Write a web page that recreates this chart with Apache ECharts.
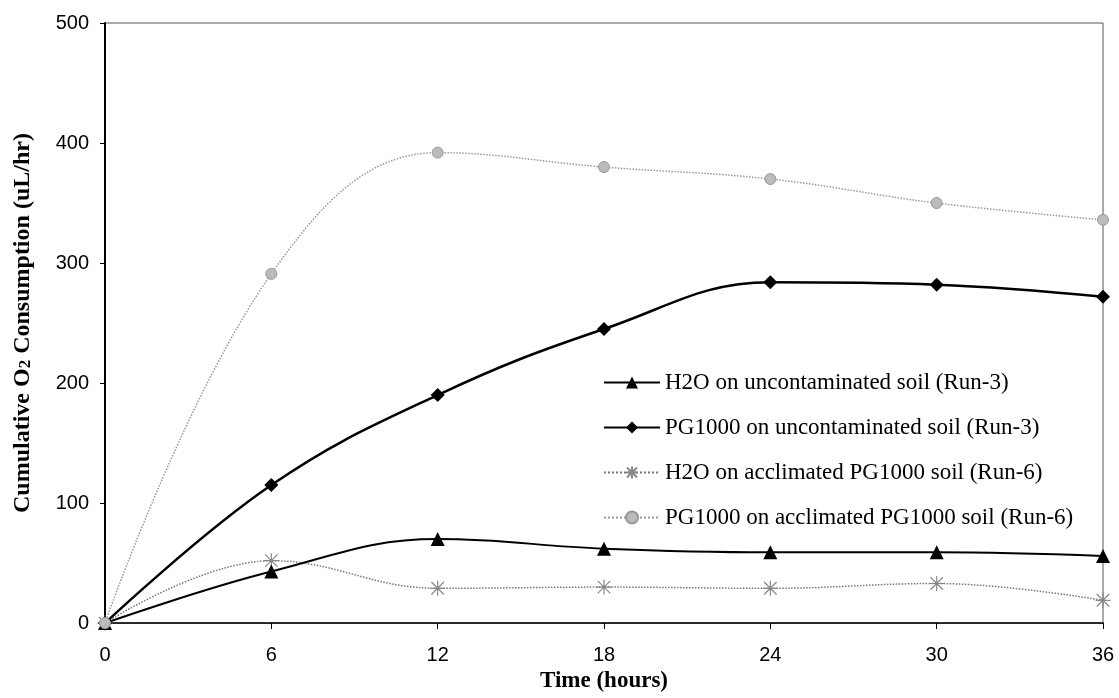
<!DOCTYPE html>
<html>
<head>
<meta charset="utf-8">
<script src="https://cdn.jsdelivr.net/npm/echarts@6/dist/echarts.min.js"></script>
<style>html,body{margin:0;padding:0;background:#fff}#c{width:1119px;height:698px}</style>
</head>
<body>
<div id="c"></div>
<script>
var hours = [0, 6, 12, 18, 24, 30, 36];
var xTicks = [0, 6, 12, 18, 24, 30, 36];
var yTicks = [0, 100, 200, 300, 400, 500];
var seriesNames = [
  'H2O on uncontaminated soil (Run-3)',
  'PG1000 on uncontaminated soil (Run-3)',
  'H2O on acclimated PG1000 soil (Run-6)',
  'PG1000 on acclimated PG1000 soil (Run-6)'
];
var h2oUncontaminated = [0, 43, 70, 62, 59, 59, 56];
var pgUncontaminated = [0, 115, 190, 245, 284, 282, 272];
var h2oAcclimated = [0, 52, 29, 30, 29, 33, 19];
var pgAcclimated = [0, 291, 392, 380, 370, 350, 336];

function pairs(vals) { return hours.map(function (h, i) { return [h, vals[i]]; }); }

var asterisk = 'path://M0,0L10,10M10,0L0,10M5,-1L5,11M-1,5L11,5';

var chart = echarts.init(document.getElementById('c'), null, {renderer: 'canvas'});
chart.setOption({
  animation: false,
  backgroundColor: '#fff',
  grid: {left: 105, right: 16, top: 23, bottom: 70, show: true, borderColor: '#555', borderWidth: 1, backgroundColor: 'transparent'},
  legend: {
    orient: 'vertical', left: 598, top: 366, itemWidth: 56, itemHeight: 15, itemGap: 22,
    data: seriesNames,
    textStyle: {fontFamily: 'Liberation Serif', fontSize: 23, color: '#000'}
  },
  xAxis: {
    type: 'value', min: xTicks[0], max: xTicks[xTicks.length - 1], interval: 6,
    name: 'Time (hours)', nameLocation: 'middle', nameGap: 46,
    nameTextStyle: {fontFamily: 'Liberation Serif', fontWeight: 'bold', fontSize: 23, color: '#000'},
    axisLine: {lineStyle: {color: '#000', width: 1.5}},
    axisTick: {show: true, length: 6, lineStyle: {color: '#000'}},
    axisLabel: {fontFamily: 'Liberation Sans', fontSize: 20, color: '#000', margin: 22},
    splitLine: {show: false}
  },
  yAxis: {
    type: 'value', min: yTicks[0], max: yTicks[yTicks.length - 1], interval: 100,
    name: 'Cumulative O{s|2} Consumption (uL/hr)', nameLocation: 'middle', nameGap: 70,
    nameTextStyle: {fontFamily: 'Liberation Serif', fontWeight: 'bold', fontSize: 24, color: '#000',
      rich: {s: {fontFamily: 'Liberation Serif', fontWeight: 'bold', fontSize: 17, color: '#000', padding: [6, 0, 0, 0]}}},
    axisLine: {show: true, lineStyle: {color: '#000', width: 2}},
    axisTick: {show: true, length: 5, lineStyle: {color: '#000'}},
    axisLabel: {fontFamily: 'Liberation Sans', fontSize: 20, color: '#000', margin: 16},
    splitLine: {show: false}
  },
  series: [
    {
      name: seriesNames[0], type: 'line', smooth: 0.4, data: pairs(h2oUncontaminated),
      symbol: 'triangle', symbolSize: 14,
      lineStyle: {color: '#000', width: 2},
      itemStyle: {color: '#000'}, z: 3
    },
    {
      name: seriesNames[1], type: 'line', smooth: 0.4, data: pairs(pgUncontaminated),
      symbol: 'diamond', symbolSize: 14,
      lineStyle: {color: '#000', width: 2.5},
      itemStyle: {color: '#000'}, z: 4
    },
    {
      name: seriesNames[2], type: 'line', smooth: 0.4, data: pairs(h2oAcclimated),
      symbol: asterisk, symbolSize: 15,
      lineStyle: {color: '#777', width: 1.5, type: 'dotted'},
      itemStyle: {color: 'transparent', borderColor: '#888', borderWidth: 1.2}, z: 2
    },
    {
      name: seriesNames[3], type: 'line', smooth: 0.4, data: pairs(pgAcclimated),
      symbol: 'circle', symbolSize: 11,
      lineStyle: {color: '#999', width: 1.5, type: 'dotted'},
      itemStyle: {color: '#bbb', borderColor: '#999', borderWidth: 1}, z: 5
    }
  ]
});
</script>
</body>
</html>
